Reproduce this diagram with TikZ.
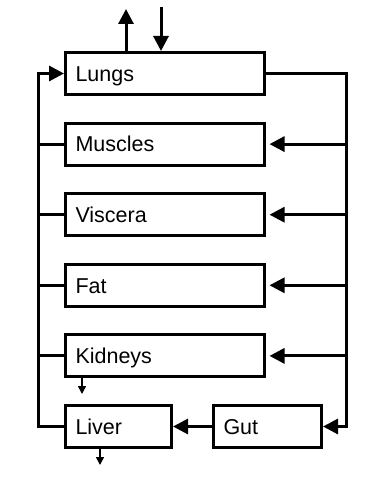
\documentclass[tikz,border=0pt]{standalone}
\usepackage{fontspec}
\setmainfont{Liberation Sans}
\usetikzlibrary{arrows.meta, positioning}

\begin{document}
\begin{tikzpicture}[
  x=1pt, y=-1pt,
  font=\fontsize{21.5}{26}\selectfont,
  >={Triangle[length=15pt,width=15pt]},
  node distance=25.6pt and 39pt,
  organbox/.style={rectangle, draw, line width=3pt, minimum height=42pt,
        inner xsep=10pt, text height=15.4pt, text depth=0pt, align=left},
  widebox/.style={organbox, text width=179pt},
  liverbox/.style={organbox, text width=86pt},
  gutbox/.style={organbox, text width=88pt},
  link/.style={line width=3pt},
  flow/.style={->, line width=3pt},
  feed/.style={flow, shorten >=3.5pt},
  drain/.style={-{Triangle[length=8pt,width=8pt]}, line width=1.5pt},
]
\useasboundingbox (0,0) rectangle (386,478);

% --- Column of organ compartments ---
\node[widebox] (lungs) at (165,73.5) {Lungs};
\node[widebox, below=of lungs]   (muscles) {Muscles};
\node[widebox, below=of muscles] (viscera) {Viscera};
\node[widebox, below=of viscera] (fat)     {Fat};
\node[widebox, below=of fat]     (kidneys) {Kidneys};

% --- Bottom row: liver and gut ---
\node[liverbox, below=of kidneys.south west, anchor=north west] (liver) {Liver};
\node[gutbox, right=of liver] (gut) {Gut};

% --- Bus lines and free ends ---
\coordinate (lbus) at (38,0);
\coordinate (rbus) at (346,0);
\coordinate (exhaled) at (126,9);
\coordinate (inhaled) at (161,7);
\coordinate (urine) at (82,394);
\coordinate (metab) at (100,465);

% --- Arterial side: lungs out to every organ ---
\draw[flow] (lungs.east) -| (rbus |- gut.east) -- (gut.east);
% --- Venous side: back to the lungs ---
\draw[flow] (liver.west) -| (lbus |- lungs.west) -- (lungs.west);

\foreach \organ in {muscles,viscera,fat,kidneys}{
  \draw[link] (\organ.west) -- (lbus |- \organ.west);
  \draw[feed] (rbus |- \organ.east) -- (\organ.east);
}

\draw[flow] (gut.west) -- (liver.east);

% --- Breathing in and out ---
\draw[flow] (lungs.north -| exhaled) -- (exhaled);
\draw[flow] (inhaled) -- (lungs.north -| inhaled);

% --- Elimination ---
\draw[drain] (kidneys.south -| urine) -- (urine);
\draw[drain] (liver.south -| metab) -- (metab);

\end{tikzpicture}
\end{document}
